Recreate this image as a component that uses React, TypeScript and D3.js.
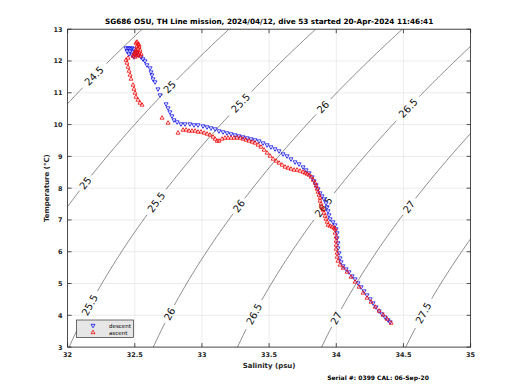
import React from "react";
import * as d3 from "d3";

const TITLE = "SG686 OSU, TH Line mission, 2024/04/12, dive 53 started 20-Apr-2024 11:46:41";
const X_LABEL = "Salinity (psu)";
const Y_LABEL = "Temperature (°C)";
const FOOTER = "Serial #: 0399  CAL: 06-Sep-20";
const SALINITY_TICKS = [32, 32.5, 33, 33.5, 34, 34.5, 35];
const TEMP_TICKS = [3, 4, 5, 6, 7, 8, 9, 10, 11, 12, 13];
const DENSITY_LEVELS = [24.5, 25, 25.5, 26, 26.5, 27, 27.5];
// [sigma level, temperature where the inline label sits]
const LABEL_SPOTS: [number, number][] = [
  [24.5, 11.53],
  [25, 11.18], [25, 8.16],
  [25.5, 10.68], [25.5, 7.56], [25.5, 4.32],
  [26, 10.55], [26, 7.44], [26, 4.04],
  [26.5, 10.52], [26.5, 7.41], [26.5, 4.04],
  [27, 7.41], [27, 3.91],
  [27.5, 4.07],
];

// descent [salinity, temperature]
const DESCENT: [number, number][] = [
  [32.435, 12.408], [32.45, 12.408], [32.465, 12.408], [32.48, 12.408], [32.494, 12.377],
  [32.442, 12.314], [32.465, 12.314], [32.487, 12.282], [32.509, 12.282], [32.457, 12.219],
  [32.48, 12.188], [32.502, 12.219], [32.524, 12.188], [32.494, 12.125], [32.517, 12.251],
  [32.547, 12.125], [32.561, 12.062], [32.576, 12.0], [32.591, 11.874], [32.614, 11.779],
  [32.621, 11.653], [32.628, 11.559], [32.636, 11.433], [32.651, 11.339], [32.673, 11.118],
  [32.688, 10.93], [32.733, 10.647], [32.748, 10.521], [32.762, 10.395], [32.777, 10.27],
  [32.792, 10.144], [32.815, 10.081], [32.844, 10.018], [32.874, 10.018], [32.911, 10.018],
  [32.941, 9.987], [32.971, 9.987], [33.008, 9.955], [33.038, 9.924], [33.068, 9.892],
  [33.098, 9.861], [33.127, 9.798], [33.157, 9.767], [33.187, 9.735], [33.217, 9.704],
  [33.246, 9.672], [33.276, 9.641], [33.306, 9.609], [33.336, 9.578], [33.366, 9.546],
  [33.395, 9.515], [33.425, 9.483], [33.455, 9.42], [33.485, 9.358], [33.514, 9.295],
  [33.544, 9.232], [33.574, 9.169], [33.604, 9.074], [33.634, 9.011], [33.663, 8.917],
  [33.693, 8.822], [33.723, 8.759], [33.753, 8.665], [33.775, 8.571], [33.798, 8.476],
  [33.82, 8.35], [33.835, 8.225], [33.85, 8.099], [33.864, 7.973], [33.879, 7.847],
  [33.894, 7.753], [33.909, 7.658], [33.924, 7.532], [33.932, 7.407], [33.939, 7.281],
  [33.946, 7.155], [33.954, 7.029], [33.976, 6.935], [33.991, 6.84], [33.999, 6.715],
  [34.006, 6.589], [34.006, 6.432], [34.013, 6.274], [34.013, 6.117], [34.021, 5.96],
  [34.028, 5.802], [34.036, 5.677], [34.051, 5.551], [34.073, 5.456], [34.095, 5.362],
  [34.118, 5.236], [34.14, 5.142], [34.162, 5.016], [34.185, 4.89], [34.207, 4.764],
  [34.229, 4.638], [34.252, 4.513], [34.274, 4.387], [34.296, 4.261], [34.319, 4.135],
  [34.341, 4.041], [34.363, 3.946], [34.386, 3.852], [34.401, 3.789],
];

// ascent [salinity, temperature]
const ASCENT: [number, number][] = [
  [34.408, 3.757], [34.378, 3.883], [34.349, 4.009], [34.319, 4.135], [34.289, 4.261],
  [34.259, 4.418], [34.229, 4.544], [34.2, 4.702], [34.17, 4.89], [34.14, 5.048],
  [34.11, 5.205], [34.081, 5.362], [34.051, 5.488], [34.028, 5.582], [34.013, 5.708],
  [34.006, 5.834], [34.006, 5.96], [33.999, 6.086], [33.999, 6.212], [33.999, 6.337],
  [33.999, 6.463], [33.991, 6.589], [33.991, 6.715], [33.984, 6.746], [33.969, 6.778],
  [33.954, 6.809], [33.939, 6.84], [33.932, 6.935], [33.924, 7.029], [33.917, 7.124],
  [33.909, 7.218], [33.902, 7.312], [33.894, 7.407], [33.887, 7.501], [33.879, 7.596],
  [33.879, 7.69], [33.872, 7.784], [33.864, 7.879], [33.857, 7.973], [33.85, 8.068],
  [33.842, 8.162], [33.828, 8.256], [33.813, 8.35], [33.798, 8.413], [33.783, 8.445],
  [33.768, 8.476], [33.753, 8.507], [33.73, 8.539], [33.708, 8.571], [33.686, 8.571],
  [33.663, 8.602], [33.641, 8.633], [33.619, 8.665], [33.597, 8.728], [33.574, 8.791],
  [33.552, 8.854], [33.53, 8.917], [33.507, 9.011], [33.485, 9.106], [33.463, 9.2],
  [33.44, 9.295], [33.418, 9.358], [33.395, 9.42], [33.373, 9.452], [33.351, 9.483],
  [33.328, 9.515], [33.306, 9.546], [33.283, 9.578], [33.261, 9.578], [33.239, 9.578],
  [33.217, 9.578], [33.194, 9.578], [33.172, 9.578], [33.15, 9.546], [33.127, 9.483],
  [33.113, 9.483], [33.098, 9.546], [33.083, 9.609], [33.06, 9.672], [33.038, 9.704],
  [33.016, 9.735], [32.993, 9.767], [32.971, 9.767], [32.949, 9.798], [32.926, 9.798],
  [32.904, 9.798], [32.882, 9.829], [32.859, 9.829], [32.822, 9.735], [32.748, 10.05],
  [32.703, 10.207], [32.554, 10.616], [32.539, 10.679], [32.524, 10.773], [32.509, 10.867],
  [32.502, 10.993], [32.494, 11.118], [32.487, 11.244], [32.472, 11.433], [32.465, 11.559],
  [32.457, 11.685], [32.45, 11.811], [32.442, 11.937], [32.435, 12.031], [32.45, 12.094],
  [32.517, 12.597], [32.524, 12.534], [32.517, 12.471], [32.532, 12.44], [32.524, 12.377],
  [32.509, 12.345], [32.539, 12.345], [32.502, 12.282], [32.517, 12.282], [32.532, 12.251],
  [32.494, 12.219], [32.509, 12.188], [32.524, 12.188], [32.539, 12.156], [32.547, 12.219],
  [32.487, 12.156], [32.502, 12.125], [32.509, 12.566], [32.532, 12.503],
];

// UNESCO 1981 equation of state at zero pressure
function sigmaT(S: number, T: number): number {
  const rw = 999.842594 + 6.793952e-2 * T - 9.09529e-3 * T ** 2 + 1.001685e-4 * T ** 3 - 1.120083e-6 * T ** 4 + 6.536332e-9 * T ** 5;
  const A = 8.24493e-1 - 4.0899e-3 * T + 7.6438e-5 * T ** 2 - 8.2467e-7 * T ** 3 + 5.3875e-9 * T ** 4;
  const B = -5.72466e-3 + 1.0227e-4 * T - 1.6546e-6 * T ** 2;
  const C = 4.8314e-4;
  return rw + A * S + B * Math.pow(S, 1.5) + C * S * S - 1000;
}
function salinityFor(level: number, T: number): number {
  let lo = 25, hi = 40;
  for (let i = 0; i < 50; i++) {
    const mid = (lo + hi) / 2;
    if (sigmaT(mid, T) < level) lo = mid; else hi = mid;
  }
  return (lo + hi) / 2;
}

const W = 520, H = 390;
const L = 67.6, R = 470.6, T0 = 29.2, B0 = 347.1;

export default function App() {
  const x = d3.scaleLinear().domain([32, 35]).range([L, R]);
  const y = d3.scaleLinear().domain([3, 13]).range([B0, T0]);
  const temps = d3.range(2.0, 13.6, 0.04);
  const tickFont = "DejaVu Sans, sans-serif";

  const contours = DENSITY_LEVELS.map((lev) => {
    const labels = LABEL_SPOTS.filter((l) => l[0] === lev).map(([, t]) => {
      const cx = x(salinityFor(lev, t));
      const cy = y(t);
      const dx = x(salinityFor(lev, t + 0.1)) - x(salinityFor(lev, t - 0.1));
      const dy = y(t + 0.1) - y(t - 0.1);
      let ang = (Math.atan2(dy, dx) * 180) / Math.PI;
      if (ang > 90) ang -= 180;
      if (ang < -90) ang += 180;
      const text = String(lev);
      const r = text.length * 3.2 + 3;
      return { cx, cy, ang, text, r };
    });
    const pts = temps.map((t) => [x(salinityFor(lev, t)), y(t)] as [number, number]);
    const line = d3
      .line<[number, number]>()
      .defined((p) => labels.every((lb) => Math.hypot(p[0] - lb.cx, p[1] - lb.cy) > lb.r))
      .x((p) => p[0])
      .y((p) => p[1]);
    return { lev, d: line(pts) || "", labels };
  });

  const tri = d3.symbol().type(d3.symbolTriangle).size(7)() || "";
  const tick = 4;

  return (
    <svg width={W} height={H} style={{ position: "absolute", left: 0, top: 0, background: "#fff" }}>
      <defs>
        <clipPath id="plotclip">
          <rect x={L} y={T0} width={R - L} height={B0 - T0} />
        </clipPath>
      </defs>
      <rect x={0} y={0} width={W} height={H} fill="#fff" />
      {/* grid */}
      <g stroke="#e3e3e3" strokeWidth={0.7}>
        {SALINITY_TICKS.map((s) => (
          <line key={"gx" + s} x1={x(s)} x2={x(s)} y1={T0} y2={B0} />
        ))}
        {TEMP_TICKS.map((t) => (
          <line key={"gy" + t} x1={L} x2={R} y1={y(t)} y2={y(t)} />
        ))}
      </g>
      {/* contours */}
      <g clipPath="url(#plotclip)">
        {contours.map((c) => (
          <path key={c.lev} d={c.d} fill="none" stroke="#3a3a3a" strokeWidth={0.6} />
        ))}
        {contours.map((c) =>
          c.labels.map((lb, i) => (
            <text
              key={c.lev + "-" + i}
              transform={`translate(${lb.cx},${lb.cy}) rotate(${lb.ang})`}
              textAnchor="middle"
              dominantBaseline="central"
              fontFamily={tickFont}
              fontSize={10}
              fill="#111"
            >
              {lb.text}
            </text>
          ))
        )}
      </g>
      {/* data */}
      <g clipPath="url(#plotclip)">
        {DESCENT.map(([s, t], i) => (
          <path key={"d" + i} d={tri} transform={`translate(${x(s)},${y(t)}) rotate(180)`} fill="none" stroke="#1f1fe6" strokeWidth={0.85} />
        ))}
        {ASCENT.map(([s, t], i) => (
          <path key={"a" + i} d={tri} transform={`translate(${x(s)},${y(t)})`} fill="none" stroke="#ee1111" strokeWidth={0.85} />
        ))}
      </g>
      {/* axes box and ticks */}
      <rect x={L} y={T0} width={R - L} height={B0 - T0} fill="none" stroke="#262626" strokeWidth={0.8} />
      <g stroke="#262626" strokeWidth={0.8}>
        {SALINITY_TICKS.map((s) => (
          <g key={"tx" + s}>
            <line x1={x(s)} x2={x(s)} y1={B0} y2={B0 - tick} />
            <line x1={x(s)} x2={x(s)} y1={T0} y2={T0 + tick} />
          </g>
        ))}
        {TEMP_TICKS.map((t) => (
          <g key={"ty" + t}>
            <line x1={L} x2={L + tick} y1={y(t)} y2={y(t)} />
            <line x1={R} x2={R - tick} y1={y(t)} y2={y(t)} />
          </g>
        ))}
      </g>
      <g fontFamily={tickFont} fontSize={6.5} fontWeight="bold" fill="#262626">
        {SALINITY_TICKS.map((s) => (
          <text key={"lx" + s} x={x(s)} y={B0 + 10} textAnchor="middle">
            {String(s)}
          </text>
        ))}
        {TEMP_TICKS.map((t) => (
          <text key={"ly" + t} x={L - 5} y={y(t) + 2.5} textAnchor="end">
            {String(t)}
          </text>
        ))}
        <text x={(L + R) / 2} y={B0 + 21} textAnchor="middle" fontSize={7}>
          {X_LABEL}
        </text>
        <text transform={`translate(${49},${(T0 + B0) / 2}) rotate(-90)`} textAnchor="middle" fontSize={7}>
          {Y_LABEL}
        </text>
        <text x={(L + R) / 2} y={T0 - 5} textAnchor="middle" fontSize={7.3} fill="#000">
          {TITLE}
        </text>
        <text x={378} y={380} textAnchor="middle" fontSize={6} fill="#000">
          {FOOTER}
        </text>
      </g>
      {/* legend */}
      <g>
        <rect x={76.5} y={320} width={57} height={17.5} fill="#e6e6e6" stroke="#333" strokeWidth={0.7} />
        <path d={tri} transform={`translate(93,325.5) rotate(180)`} fill="none" stroke="#1f1fe6" strokeWidth={0.85} />
        <path d={tri} transform={`translate(93,332.5)`} fill="none" stroke="#ee1111" strokeWidth={0.85} />
        <text x={109} y={327.5} fontFamily={tickFont} fontSize={5.5} fill="#000">descent</text>
        <text x={109} y={334.5} fontFamily={tickFont} fontSize={5.5} fill="#000">ascent</text>
      </g>
    </svg>
  );
}
